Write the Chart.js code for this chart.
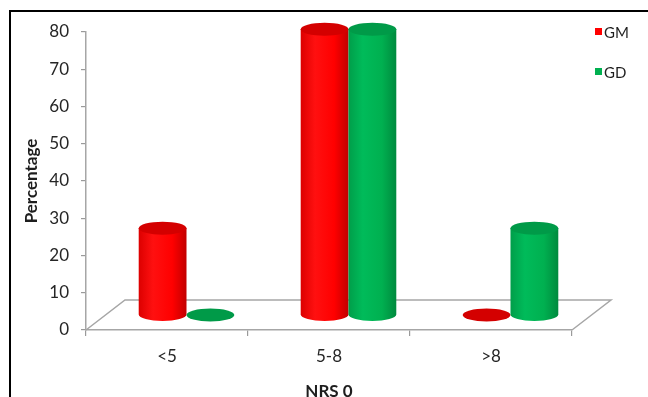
<!DOCTYPE html>
<html>
<head>
<meta charset="utf-8">
<script src="https://cdn.jsdelivr.net/npm/chart.js@4.4.1/dist/chart.umd.min.js"></script>
<style>
  html, body { margin: 0; padding: 0; background: #fff; overflow: hidden; width: 648px; height: 397px; }
  #wrap { position: relative; width: 648px; height: 397px; overflow: hidden; }
  #wrap canvas { position: absolute; left: 0; top: 0; }
  #frame { position: absolute; left: 9px; top: 10px; width: 720px; height: 460px; border: 2px solid #000; pointer-events: none; }
</style>
</head>
<body>
<div id="wrap">
  <canvas id="chart" width="648" height="402"></canvas>
  <div id="frame"></div>
</div>
<script>
// NRS 0 distribution per group (percent of patients)
const categories = ['<5', '5-8', '>8'];
const gmValues = [23.3, 76.7, 0];
const gdValues = [0, 76.7, 23.3];
const seriesNames = ['GM', 'GD'];
const yMin = 0, yMax = 80, yStep = 10;

const FONT = 'Lato, "Open Sans", "Liberation Sans", sans-serif';

// Perspective offset of the floor (front edge -> back edge)
const DEPTH_X = 39, DEPTH_Y = -30;
const CAP_RY = 6.5;

const palettes = [
  { edgeL: '#dc0000', hi: '#ff1010', body: '#ff0000', edgeR: '#c20000', cap: '#d40000', legend: '#ff0000' },
  { edgeL: '#009e4a', hi: '#00bb5a', body: '#00b050', edgeR: '#008a3e', cap: '#009a48', legend: '#00b050' }
];

function drawCylinder(ctx, cx, top, base, hw, ry, pal) {
  const l = cx - hw, r = cx + hw;
  if (base - top > 0.5) {
    const g = ctx.createLinearGradient(l, 0, r, 0);
    g.addColorStop(0, pal.edgeL);
    g.addColorStop(0.3, pal.hi);
    g.addColorStop(0.7, pal.body);
    g.addColorStop(1, pal.edgeR);
    ctx.beginPath();
    ctx.moveTo(l, top);
    ctx.lineTo(l, base);
    ctx.ellipse(cx, base, hw, ry, 0, Math.PI, 0, true);
    ctx.lineTo(r, top);
    ctx.closePath();
    ctx.fillStyle = g;
    ctx.fill();
  }
  ctx.beginPath();
  ctx.ellipse(cx, top, hw, ry, 0, 0, Math.PI * 2);
  ctx.fillStyle = pal.cap;
  ctx.fill();
}

const cylinderPlugin = {
  id: 'cylinders',
  beforeDatasetsDraw(chart) {
    const { ctx, chartArea } = chart;
    const { left, right, bottom } = chartArea;
    ctx.save();
    // floor
    ctx.beginPath();
    ctx.moveTo(left, bottom);
    ctx.lineTo(left + DEPTH_X, bottom + DEPTH_Y);
    ctx.lineTo(right + DEPTH_X, bottom + DEPTH_Y);
    ctx.lineTo(right, bottom);
    ctx.strokeStyle = '#a6a6a6';
    ctx.lineWidth = 1.5;
    ctx.stroke();
    // columns, set halfway into the floor depth
    chart.data.datasets.forEach((ds, i) => {
      const meta = chart.getDatasetMeta(i);
      meta.data.forEach(bar => {
        const p = bar.getProps(['x', 'y', 'base', 'width'], true);
        drawCylinder(ctx, p.x + DEPTH_X / 2, p.y + DEPTH_Y / 2, p.base + DEPTH_Y / 2,
          p.width / 2, CAP_RY, palettes[i]);
      });
    });
    ctx.restore();
    return false;
  },
  afterDraw(chart) {
    const { ctx } = chart;
    ctx.save();
    ctx.font = '15px ' + FONT;
    ctx.textBaseline = 'middle';
    ctx.textAlign = 'left';
    chart.data.datasets.forEach((ds, i) => {
      const cy = 32 + i * 40;
      ctx.fillStyle = ds.backgroundColor;
      ctx.fillRect(595, cy - 4, 7, 7);
      ctx.fillStyle = '#1e1e1e';
      ctx.fillText(ds.label, 604, cy + 1);
    });
    ctx.restore();
  }
};

new Chart(document.getElementById('chart'), {
  type: 'bar',
  data: {
    labels: categories,
    datasets: [
      { label: seriesNames[0], data: gmValues, backgroundColor: palettes[0].legend },
      { label: seriesNames[1], data: gdValues, backgroundColor: palettes[1].legend }
    ]
  },
  options: {
    responsive: false,
    animation: false,
    events: [],
    layout: { padding: { left: 0, top: 32, right: 76, bottom: 0 } },
    datasets: { bar: { categoryPercentage: 0.59, barPercentage: 1.0 } },
    plugins: { legend: { display: false }, tooltip: { enabled: false } },
    scales: {
      x: {
        offset: true,
        grid: { offset: true, display: true, drawOnChartArea: false, drawTicks: true, tickLength: 6, color: '#9a9a9a', lineWidth: 1.2 },
        border: { display: true, color: '#a6a6a6', width: 1.5 },
        ticks: { color: '#262626', padding: 10, font: { family: FONT, size: 17 } },
        title: { display: true, text: 'NRS 0', color: '#1e1e1e', padding: { top: 0, bottom: 2 },
          font: { family: FONT, size: 17, weight: 'bold', lineHeight: 1 } },
        afterFit(scale) { scale.height = 72; }
      },
      y: {
        min: yMin, max: yMax,
        grid: { display: true, drawOnChartArea: false, drawTicks: true, tickLength: 5, color: '#9a9a9a', lineWidth: 1.2 },
        border: { display: true, color: '#a6a6a6', width: 1.5 },
        ticks: { stepSize: yStep, color: '#262626', padding: 12, font: { family: FONT, size: 17 } },
        title: { display: true, text: 'Percentage', color: '#1e1e1e', padding: { top: 21, bottom: 0 },
          font: { family: FONT, size: 17, weight: 'bold', lineHeight: 1.2 } },
        afterFit(scale) { scale.width = 86; }
      }
    }
  },
  plugins: [cylinderPlugin]
});
</script>
</body>
</html>
